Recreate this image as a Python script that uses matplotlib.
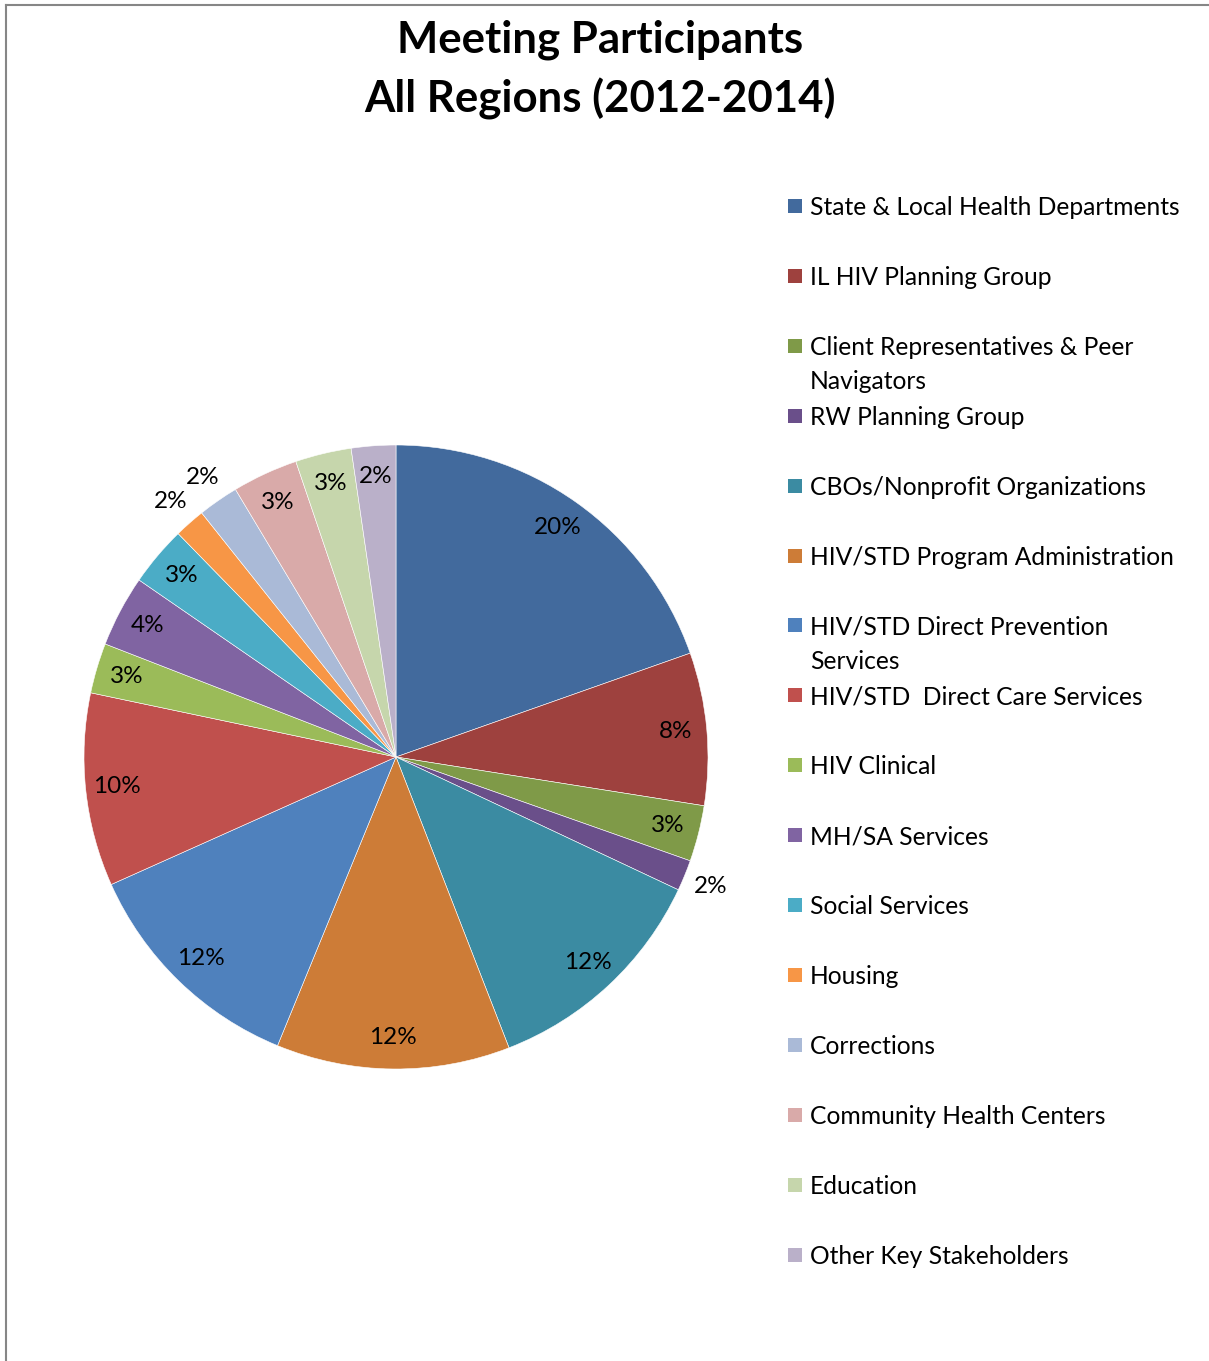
import matplotlib.pyplot as plt
from matplotlib.patches import Rectangle
from matplotlib.lines import Line2D
import numpy as np

plt.rcParams['font.family'] = ['Lato', 'DejaVu Sans']

categories = [
    'State & Local Health Departments',
    'IL HIV Planning Group',
    'Client Representatives & Peer\nNavigators',
    'RW Planning Group',
    'CBOs/Nonprofit Organizations',
    'HIV/STD Program Administration',
    'HIV/STD Direct Prevention\nServices',
    'HIV/STD  Direct Care Services',
    'HIV Clinical',
    'MH/SA Services',
    'Social Services',
    'Housing',
    'Corrections',
    'Community Health Centers',
    'Education',
    'Other Key Stakeholders',
]
shares = [19.6, 7.9, 2.9, 1.6, 12.1, 12.1, 12.1, 10.0,
          2.6, 3.7, 3.1, 1.6, 2.1, 3.4, 2.9, 2.3]
colors = ['#426A9D', '#9E413E', '#7F9A48', '#6A4F8A', '#3B8BA2', '#CD7C37',
          '#4F81BD', '#C0504D', '#9BBB59', '#8064A2', '#4BACC6', '#F79646',
          '#AABAD7', '#D9AAA9', '#C6D6AC', '#BAB0C9']
# slices too thin to hold their label get it pushed outside the rim
outside = [3, 11, 12]

W, H = 1209, 1361
fig = plt.figure(figsize=(W / 100, H / 100), dpi=100)
fig.patch.set_facecolor('white')

cx, cy, R = 396, 757, 312
ax = fig.add_axes([(cx - R) / W, (H - cy - R) / H, 2 * R / W, 2 * R / H])
wedges, _, autotexts = ax.pie(
    shares, colors=colors, startangle=90, counterclock=False,
    autopct='%.0f%%', pctdistance=0.9,
    wedgeprops=dict(edgecolor='white', linewidth=0.4),
    textprops=dict(fontsize=17.5, color='black'))
ax.set_xlim(-1, 1)
ax.set_ylim(-1, 1)
ax.set_aspect('equal')

for i, (w, t) in enumerate(zip(wedges, autotexts)):
    if i in outside:
        ang = np.deg2rad((w.theta1 + w.theta2) / 2)
        t.set_position((1.09 * np.cos(ang), 1.09 * np.sin(ang)))
    t.set_ha('center')
    t.set_va('center')

# title
fig.text(600 / W, 1 - 40 / H, 'Meeting Participants', ha='center', va='center',
         fontsize=31.5, fontweight='bold')
fig.text(600 / W, 1 - 99 / H, 'All Regions (2012-2014)', ha='center', va='center',
         fontsize=31.5, fontweight='bold')

# legend, one slot per category
top, step = 206, 69.9
for i, (lab, col) in enumerate(zip(categories, colors)):
    y = top + i * step
    fig.add_artist(Rectangle((788 / W, 1 - (y + 7) / H), 14 / W, 14 / H,
                             transform=fig.transFigure, facecolor=col,
                             edgecolor='none'))
    fig.text(810 / W, 1 - (y - 10) / H, lab, ha='left', va='top',
             fontsize=17.7, linespacing=1.6)

# chart frame (left and top edges)
fig.add_artist(Line2D([6 / W, 6 / W], [0, 1 - 5 / H], transform=fig.transFigure,
                      color='#868686', linewidth=1.5))
fig.add_artist(Line2D([6 / W, 1], [1 - 5 / H, 1 - 5 / H], transform=fig.transFigure,
                      color='#868686', linewidth=1.5))

fig.savefig('out.png', dpi=100)
